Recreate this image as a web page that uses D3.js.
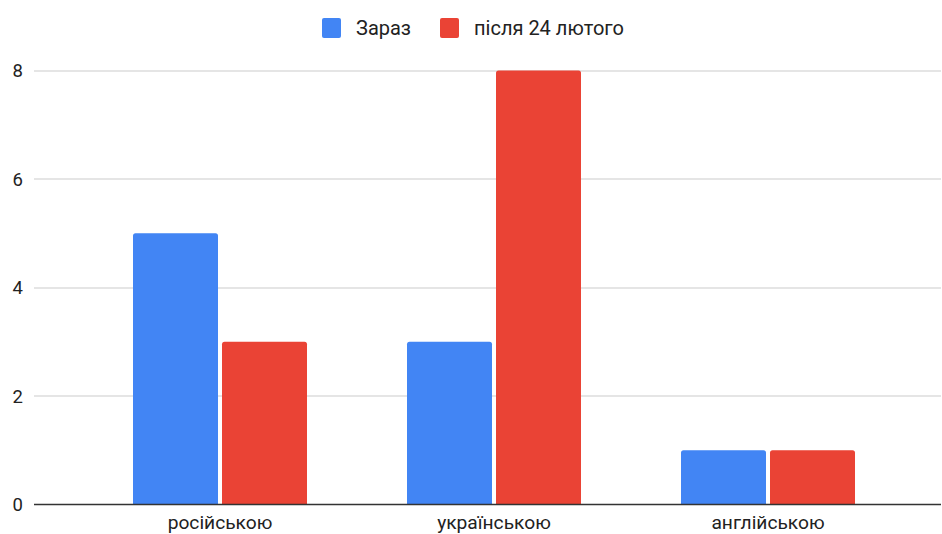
<!DOCTYPE html>
<html>
<head>
<meta charset="utf-8">
<script src="https://cdn.jsdelivr.net/npm/d3@7"></script>
<style>
  html, body { margin: 0; padding: 0; background: #fff; }
  svg { display: block; font-family: Roboto, Arial, sans-serif; }
</style>
</head>
<body>
<svg id="chart" width="942" height="534"></svg>
<script>
const categories = ["російською", "українською", "англійською"];
const seriesNames = ["Зараз", "після 24 лютого"];
const zarazValues = [5, 3, 1];
const pislyaValues = [3, 8, 1];
const yTicks = [0, 2, 4, 6, 8];
const colors = ["#4285F4", "#EA4335"];

const seriesValues = [zarazValues, pislyaValues];
const svg = d3.select("#chart");

const x0 = d3.scaleBand().domain(categories).range([83, 905])
  .paddingInner(100 / 274).paddingOuter(50 / 274);
const x1 = d3.scaleBand().domain(seriesNames).range([0, x0.bandwidth()])
  .paddingInner(4 / 89).paddingOuter(0);
const y = d3.scaleLinear().domain([0, 8]).range([504.5, 70.5]);

// y tick labels
const yAxis = d3.axisLeft(y).tickValues(yTicks).tickSize(0).tickPadding(0).tickFormat(d3.format("d"));
const gAxis = svg.append("g").attr("transform", "translate(23,0)").call(yAxis);
gAxis.select(".domain").remove();
gAxis.selectAll("text").attr("font-size", 18.5).attr("fill", "#222").attr("font-family", "Roboto, Arial, sans-serif").attr("dy", "0.35em").attr("x", 0);

// gridlines
svg.append("g").selectAll("line").data(yTicks.filter(d => d !== 0)).join("line")
  .attr("x1", 34).attr("x2", 941)
  .attr("y1", d => Math.round(y(d))).attr("y2", d => Math.round(y(d)))
  .attr("stroke", "#cccccc").attr("stroke-width", 1.2);

// bars
const r = 2.5;
function barPath(x, w, yTop, yBot) {
  return `M${x},${yBot}V${yTop + r}Q${x},${yTop} ${x + r},${yTop}H${x + w - r}Q${x + w},${yTop} ${x + w},${yTop + r}V${yBot}Z`;
}
const groups = svg.append("g").selectAll("g").data(categories).join("g")
  .attr("transform", d => `translate(${x0(d)},0)`);
groups.selectAll("path").data((c, i) => seriesNames.map((s, j) => ({ s, j, v: seriesValues[j][i] })))
  .join("path")
  .attr("d", d => barPath(x1(d.s), x1.bandwidth(), y(d.v), y(0)))
  .attr("fill", d => colors[d.j]);

// baseline
svg.append("line").attr("x1", 34).attr("x2", 941).attr("y1", y(0)).attr("y2", y(0))
  .attr("stroke", "#333").attr("stroke-width", 1.3);

// x labels
const xAxis = d3.axisBottom(x0).tickSize(0).tickPadding(0);
const gx = svg.append("g").attr("transform", "translate(0,528.5)").call(xAxis);
gx.select(".domain").remove();
gx.selectAll("text").attr("font-size", 19.2).attr("fill", "#222").attr("font-family", "Roboto, Arial, sans-serif").attr("dy", 0).attr("y", 0);

// legend
const legend = svg.append("g");
const legendItems = [
  { name: seriesNames[0], color: colors[0], x: 322 },
  { name: seriesNames[1], color: colors[1], x: 440 }
];
legendItems.forEach(it => {
  legend.append("rect").attr("x", it.x).attr("y", 18).attr("width", 19).attr("height", 20).attr("rx", 2).attr("fill", it.color);
  legend.append("text").attr("x", it.x + 34).attr("y", 35).attr("font-size", 20).attr("fill", "#222").text(it.name);
});
</script>
</body>
</html>
